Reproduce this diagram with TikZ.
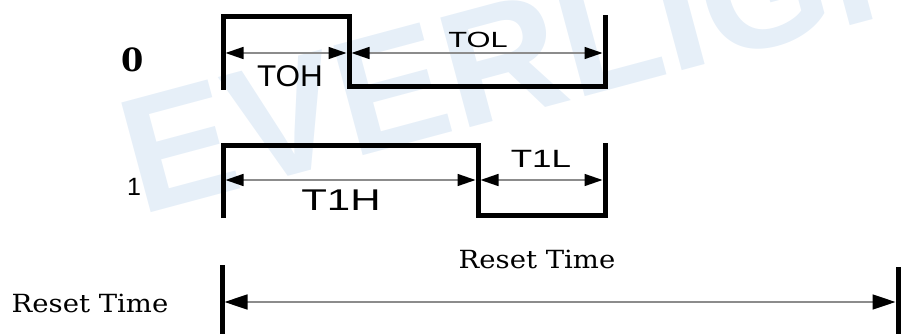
\documentclass[tikz,border=0pt]{standalone}
\usepackage{fontspec}
\setmainfont{DejaVu Serif}
\newfontfamily\resetfont[FakeStretch=1.1]{DejaVu Serif}
\newfontfamily\labelfont[FakeStretch=1.05]{Liberation Sans}
\newfontfamily\widefont[FakeStretch=1.4]{Liberation Sans}
\newfontfamily\rowfont{Liberation Sans}
\newfontfamily\brandfont{Liberation Sans}
\usetikzlibrary{arrows.meta}
\definecolor{wmark}{RGB}{230,239,248}
\definecolor{spangray}{RGB}{140,140,140}
\tikzset{
  sigtip/.tip={Triangle[length=18pt,width=12pt,color=black]},
  bigtip/.tip={Triangle[length=23pt,width=15pt,color=black]},
  wave/.style={line width=5pt,line join=miter},
  span/.style={spangray,line width=1.5pt,{sigtip}-{sigtip},shorten <=2.5pt,shorten >=2.5pt},
  longspan/.style={spangray,line width=1.5pt,{bigtip}-{bigtip},shorten <=2.5pt,shorten >=2.5pt},
  tlabel/.style={anchor=base,inner sep=0pt},
}
\begin{document}
\begin{tikzpicture}[x=1pt,y=-1pt]
    \useasboundingbox (0,0) rectangle (901,334);
    % watermark
    \begin{scope}
        \clip (0,0) rectangle (901,334);
        \node[wmark,rotate=15,anchor=base west,inner sep=0pt,
            font=\brandfont\bfseries\fontsize{165pt}{165pt}\selectfont] (brand) at (140,216) {EVERLIGHT};
    \end{scope}
    % bit 0
    \draw[wave] (223,90) -- (223,17) -- (349,17) -- (349,87) -- (605,87) -- (605,15);
    \coordinate (z0a) at (223,53);
    \coordinate (z0b) at (349,53);
    \coordinate (z0c) at (605,53);
    \draw[span] (z0a) -- (z0b);
    \draw[span] (z0b) -- (z0c);
    \node[tlabel,font=\bfseries\fontsize{32pt}{32pt}\selectfont] (row0) at (133,72) {0};
    \node[tlabel,font=\labelfont\fontsize{30pt}{30pt}\selectfont] (t0h) at (290,87) {TOH};
    \node[tlabel,font=\widefont\fontsize{22pt}{22pt}\selectfont] (t0l) at (478,48) {TOL};
    % bit 1
    \draw[wave] (223,218) -- (223,145) -- (478,145) -- (478,215) -- (605,215) -- (605,143);
    \coordinate (z1a) at (223,180);
    \coordinate (z1b) at (478,180);
    \coordinate (z1c) at (605,180);
    \draw[span] (z1a) -- (z1b);
    \draw[span] (z1b) -- (z1c);
    \node[tlabel,font=\rowfont\fontsize{25pt}{25pt}\selectfont] (row1) at (134,195) {1};
    \node[tlabel,font=\widefont\fontsize{30pt}{30pt}\selectfont] (t1h) at (341,210) {T1H};
    \node[tlabel,font=\widefont\fontsize{25pt}{25pt}\selectfont] (t1l) at (541,167) {T1L};
    % reset
    \draw[wave] (222,265) -- (222,334);
    \draw[wave] (898,267) -- (898,334);
    \coordinate (rsa) at (222,302);
    \coordinate (rsb) at (898,302);
    \draw[longspan] (rsa) -- (rsb);
    \node[tlabel,font=\resetfont\fontsize{25pt}{25pt}\selectfont] (rstop) at (537,268) {Reset Time};
    \node[tlabel,font=\resetfont\fontsize{25pt}{25pt}\selectfont] (rsleft) at (90,312) {Reset Time};
\end{tikzpicture}
\end{document}
